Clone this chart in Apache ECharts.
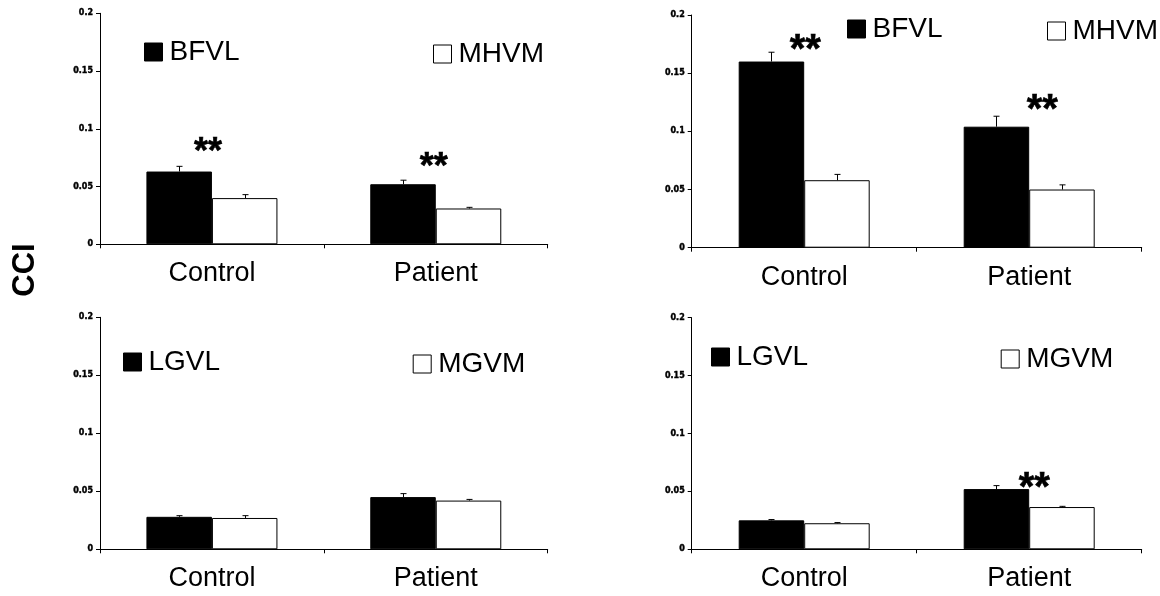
<!DOCTYPE html>
<html>
<head>
<meta charset="utf-8">
<script src="https://cdn.jsdelivr.net/npm/echarts@6/dist/echarts.min.js"></script>
<style>
  html, body { margin: 0; padding: 0; background: #fff; }
  #chart { width: 1160px; height: 596px; }
</style>
</head>
<body>
<div id="chart"></div>
<script>
// ---- data ----
const categories = ['Control', 'Patient'];
const yMin = 0, yMax = 0.2, yStep = 0.05;

// Panel A: BFVL vs MHVM (left)
const aBFVL = [0.063, 0.052];
const aBFVLErr = [0.0045, 0.0035];
const aMHVM = [0.040, 0.031];
const aMHVMErr = [0.003, 0.001];
const aStars = [0.084, 0.0715];          // height of "**" per category (null = none)

// Panel B: BFVL vs MHVM (right)
const bBFVL = [0.160, 0.104];
const bBFVLErr = [0.008, 0.009];
const bMHVM = [0.058, 0.050];
const bMHVMErr = [0.005, 0.004];
const bStars = [0.1753, 0.1235];

// Panel C: LGVL vs MGVM (left)
const cLGVL = [0.028, 0.045];
const cLGVLErr = [0.001, 0.003];
const cMGVM = [0.027, 0.042];
const cMGVMErr = [0.002, 0.001];
const cStars = [null, null];

// Panel D: LGVL vs MGVM (right)
const dLGVL = [0.025, 0.052];
const dLGVLErr = [0.0007, 0.003];
const dMGVM = [0.0225, 0.0365];
const dMGVMErr = [0.0006, 0.0006];
const dStars = [null, 0.0584];

// ---- layout / styling ----
const BAR_W = 65.5;
const FONT = '"Liberation Sans", Arial, sans-serif';

const panels = [
  { grid: { left: 100, top: 13.3, width: 447.7, height: 231 },
    names: ['BFVL', 'MHVM'], vals: [aBFVL, aMHVM], errs: [aBFVLErr, aMHVMErr], stars: aStars,
    starDx: [-4, -2], starDy: 6, starSize: 36,
    legends: [{ left: 144, top: 38 }, { left: 433, top: 40 }] },
  { grid: { left: 691.7, top: 15, width: 450, height: 232.7 },
    names: ['BFVL', 'MHVM'], vals: [bBFVL, bMHVM], errs: [bBFVLErr, bMHVMErr], stars: bStars,
    starDx: [1, 13], starDy: 7, starSize: 40,
    legends: [{ left: 847, top: 15 }, { left: 1047, top: 17 }] },
  { grid: { left: 100, top: 317.3, width: 447.7, height: 232 },
    names: ['LGVL', 'MGVM'], vals: [cLGVL, cMGVM], errs: [cLGVLErr, cMGVMErr], stars: cStars,
    starDx: [0, 0], starDy: 6, starSize: 36,
    legends: [{ left: 123, top: 348 }, { left: 412.7, top: 350 }] },
  { grid: { left: 691.7, top: 317.7, width: 450, height: 231.6 },
    names: ['LGVL', 'MGVM'], vals: [dLGVL, dMGVM], errs: [dLGVLErr, dMGVMErr], stars: dStars,
    starDx: [0, 5], starDy: 7, starSize: 40,
    legends: [{ left: 711, top: 343 }, { left: 1000.7, top: 345 }] }
];

const barStyles = [
  { color: '#000', borderColor: '#000', borderWidth: 1 },
  { color: '#fff', borderColor: '#000', borderWidth: 1 }
];

const option = {
  animation: false,
  backgroundColor: '#fff',
  grid: [], xAxis: [], yAxis: [], series: [], legend: [],
  graphic: [{
    type: 'text', x: 25, y: 270, rotation: Math.PI / 2,
    style: { text: 'CCI', font: 'bold 31px ' + FONT, fill: '#000', textAlign: 'center', textVerticalAlign: 'middle' }
  }]
};

panels.forEach((p, i) => {
  option.grid.push(Object.assign({ containLabel: false }, p.grid));
  option.xAxis.push({
    type: 'category', gridIndex: i, data: categories,
    axisLine: { lineStyle: { color: '#000', width: 1 } },
    axisTick: { show: true, length: 4, lineStyle: { color: '#000' } },
    axisLabel: { color: '#000', fontSize: 27, fontFamily: FONT, margin: 16 },
    splitLine: { show: false }
  });
  option.yAxis.push({
    type: 'value', gridIndex: i, min: yMin, max: yMax, interval: yStep,
    axisLine: { show: true, lineStyle: { color: '#000', width: 1 } },
    axisTick: { show: true, length: 4, lineStyle: { color: '#000' } },
    axisLabel: {
      color: '#000', fontSize: 8, fontWeight: 'bold', fontFamily: '"DejaVu Sans", sans-serif', margin: 7,
      textBorderColor: '#000', textBorderWidth: 0.4
    },
    splitLine: { show: false }
  });

  // bars
  p.names.forEach((name, k) => {
    option.series.push({
      type: 'bar', name, xAxisIndex: i, yAxisIndex: i,
      data: p.vals[k], barWidth: BAR_W, barGap: '0%',
      itemStyle: barStyles[k], emphasis: { disabled: true }, z: 2
    });
  });

  // error bars (upper whisker with cap) for both bar series
  p.names.forEach((name, k) => {
    const vals = p.vals[k], errs = p.errs[k];
    const shift = (k === 0 ? -1 : 1) * BAR_W / 2;
    option.series.push({
      type: 'custom', xAxisIndex: i, yAxisIndex: i, z: 3, silent: true,
      data: vals.map((v, j) => [j, v, v + errs[j]]),
      renderItem: (params, api) => {
        const base = api.coord([api.value(0), api.value(1)]);
        const top = api.coord([api.value(0), api.value(2)]);
        const x = Math.round(base[0] + shift) + 0.5;
        const style = { stroke: '#000', lineWidth: 1 };
        return {
          type: 'group', children: [
            { type: 'line', shape: { x1: x, y1: base[1], x2: x, y2: top[1] }, style },
            { type: 'line', shape: { x1: x - 3, y1: top[1], x2: x + 3, y2: top[1] }, style }
          ]
        };
      }
    });
  });

  // significance markers
  const starData = [];
  p.stars.forEach((s, j) => {
    if (s != null) {
      starData.push({ value: [j, s], label: { offset: [p.starDx[j], p.starDy] } });
    }
  });
  option.series.push({
    type: 'scatter', xAxisIndex: i, yAxisIndex: i, symbolSize: 0, silent: true, z: 4,
    itemStyle: { opacity: 1 },
    data: starData,
    label: {
      show: true, position: 'inside', formatter: '**', color: '#000',
      fontSize: p.starSize, fontWeight: 'bold', fontFamily: FONT,
      textBorderColor: '#000', textBorderWidth: 0.6
    }
  });

  // legend entries, placed individually
  p.names.forEach((name, k) => {
    option.legend.push(Object.assign({
      data: [{ name, icon: 'rect', itemStyle: barStyles[k] }],
      itemWidth: 18, itemHeight: 18, padding: 0, selectedMode: false,
      textStyle: { fontSize: 28, fontFamily: FONT, color: '#000', padding: [7, 0, 0, 2] }
    }, p.legends[k]));
  });
});

const chart = echarts.init(document.getElementById('chart'), null, { renderer: 'canvas' });
chart.setOption(option);
</script>
</body>
</html>
